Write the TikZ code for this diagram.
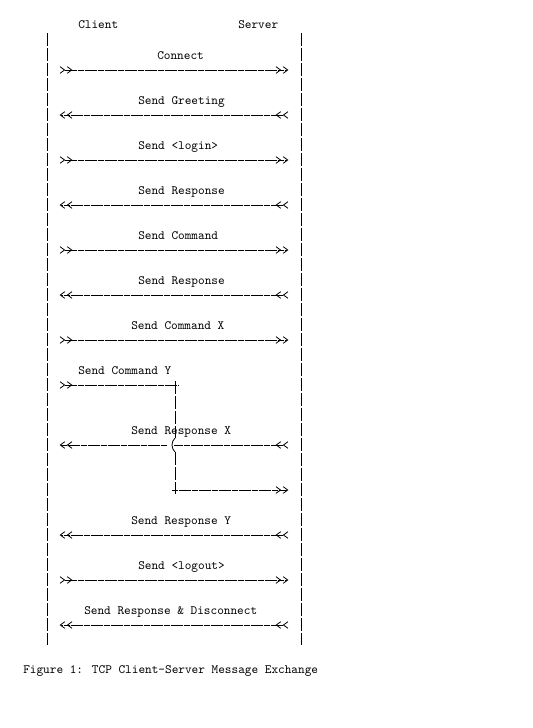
\documentclass[tikz,border=0pt]{standalone}
\usetikzlibrary{arrows.meta}
\tikzset{
  chev/.tip={Straight Barb[length=3.4pt,width=5pt,sep=1.2pt,line width=0.6pt]},
  lbl/.style={
    font=\ttfamily\fontsize{9.5}{11}\selectfont,
    anchor=base west,
    inner sep=0pt
  },
  life/.style={
    line width=0.6pt,
    dash pattern=on 9.8pt off 1.45pt
  },
  wire/.style={
    line width=0.65pt,
    dash pattern=on 4.6pt off 0.4pt
  },
  msg/.style={
    wire,
    {chev[reversed]chev[reversed]}-{chev[]chev[]}
  },
  msgout/.style={
    wire,
    {chev[reversed]chev[reversed]}-
  },
  msgin/.style={
    wire,
    -{chev[]chev[]}
  }
}
\begin{document}
\begin{tikzpicture}[x=0.75pt,y=-0.75pt]
\useasboundingbox (0,0) rectangle (532,728);
% actors and lifelines
\node[lbl] (client) at (78,28) {Client};
\node[lbl] (server) at (238,28) {Server};
\coordinate (ltop) at (47,33);
\coordinate (lbot) at (47,645);
\coordinate (rtop) at (301,33);
\coordinate (rbot) at (301,645);
\draw[life] (ltop) -- (lbot);
\draw[life] (rtop) -- (rbot);

% plain exchanges
\foreach \i/\x/\y/\txt in {1/157/55/Connect, 2/138/100/Send Greeting,
    3/138/145/Send <login>, 4/138/190/Send Response, 5/138/235/Send Command,
    6/138/280/Send Response, 7/131/325/Send Command X, 8/131/520/Send Response Y,
    9/138/565/Send <logout>, 10/84/610/Send Response \& Disconnect}{
  \node[lbl] (m\i) at (\x,\y+4) {\txt};
  \coordinate (c\i) at (58,\y+15);
  \coordinate (s\i) at (290,\y+15);
}
\foreach \i in {1,3,5,7,9}
  \draw[msg] (c\i) -- (s\i);
\foreach \i in {2,4,6,8,10}
  \draw[msg] (s\i) -- (c\i);

% pipelined commands
\node[lbl] (my) at (78,374) {Send Command Y};
\node[lbl] (mx) at (131,434) {Send Response X};
\coordinate (cy) at (58,385);
\coordinate (jy) at (178,385);
\coordinate (vtop) at (175,381);
\coordinate (hopa) at (175,438);
\coordinate (hopb) at (175,452);
\coordinate (vbot) at (175,494);
\coordinate (jx) at (172,490);
\coordinate (sx) at (290,445);
\coordinate (hr) at (174,445);
\coordinate (hl) at (167,445);
\coordinate (cx) at (58,445);
\coordinate (sy) at (290,490);
\draw[msgout] (cy) -- (jy);
\draw[life] (vtop) -- (hopa);
\draw[line width=0.6pt] (hopa) .. controls (171,442) and (171,448) .. (hopb);
\draw[life] (hopb) -- (vbot);
\draw[msgout] (sx) -- (hr);
\draw[msgin] (hl) -- (cx);
\draw[msgin] (jx) -- (sy);

% caption
\node[lbl] (cap) at (23,673) {Figure 1: TCP Client-Server Message Exchange};
\end{tikzpicture}
\end{document}
